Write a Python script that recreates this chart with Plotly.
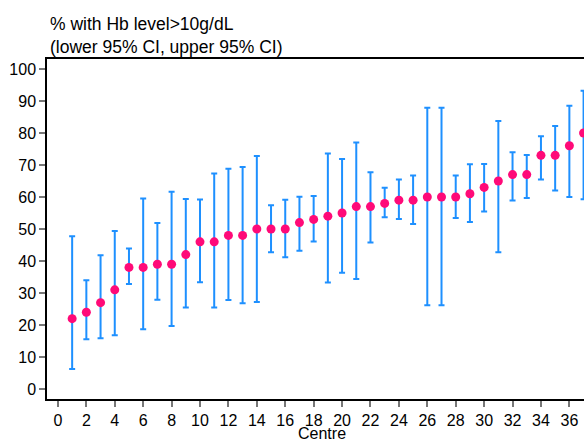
import plotly.graph_objects as go

centre = list(range(1, 38))
pct = [22, 24, 27, 31, 38, 38, 39, 39, 42, 46, 46, 48, 48, 50, 50, 50, 52, 53, 54, 55,
       57, 57, 58, 59, 59, 60, 60, 60, 61, 63, 65, 67, 67, 73, 73, 76, 80]
lower = [6.3, 15.6, 15.9, 16.8, 32.8, 18.7, 27.9, 19.7, 25.5, 33.4, 25.5, 27.8, 26.8, 27.2,
         42.7, 41.2, 43.2, 46.1, 33.3, 36.3, 34.4, 45.8, 53.7, 53.1, 51.6, 26.2, 26.2,
         53.4, 52.2, 55.5, 42.7, 58.9, 59.7, 65.5, 62.0, 60.0, 59.3]
upper = [47.7, 34.0, 41.8, 49.4, 43.9, 59.5, 51.9, 61.6, 59.4, 59.2, 67.3, 68.8, 69.4, 72.8,
         57.4, 59.1, 60.1, 60.3, 73.6, 71.9, 77.0, 67.7, 62.9, 65.5, 66.7, 87.9, 87.9,
         66.7, 70.2, 70.3, 83.7, 74.0, 73.1, 79.0, 82.2, 88.5, 93.2]
x_ticks = list(range(0, 37, 2))
y_ticks = list(range(0, 101, 10))

err_plus = [u - p for u, p in zip(upper, pct)]
err_minus = [p - l for p, l in zip(pct, lower)]

fig = go.Figure()
fig.add_trace(go.Scatter(
    x=centre, y=pct, mode="markers",
    marker=dict(color="#ff0a78", size=9, line=dict(width=0)),
    error_y=dict(type="data", symmetric=False, array=err_plus, arrayminus=err_minus,
                 color="#1e90ff", thickness=2, width=3),
    cliponaxis=False, showlegend=False,
))

font_family = "Liberation Sans, Arial, sans-serif"
fig.update_layout(
    width=584, height=440,
    margin=dict(l=47, r=0, t=59, b=41),
    paper_bgcolor="white", plot_bgcolor="white",
    font=dict(family=font_family, size=16, color="black"),
    xaxis=dict(
        range=[-0.77, 37.03], tickmode="array", tickvals=x_ticks,
        showgrid=False, zeroline=False, showline=True, linecolor="black", linewidth=1.5,
        mirror=True, ticks="outside", ticklen=6, tickwidth=2, tickcolor="#777777",
        tickfont=dict(size=16), automargin=False,
    ),
    yaxis=dict(
        range=[-3.1, 103.1], tickmode="array", tickvals=y_ticks,
        showgrid=False, zeroline=False, showline=True, linecolor="black", linewidth=1.5,
        ticks="outside", ticklen=6, tickwidth=2, tickcolor="#777777",
        tickfont=dict(size=16), automargin=False,
    ),
    annotations=[
        dict(text="% with Hb level>10g/dL<br>(lower 95% CI, upper 95% CI)",
             xref="paper", yref="paper", x=0.002, y=1.0, yshift=0,
             xanchor="left", yanchor="bottom", align="left", showarrow=False,
             font=dict(size=17.5, family=font_family)),
        dict(text="Centre", xref="paper", yref="paper", x=0.512, y=0, yshift=-34,
             xanchor="center", yanchor="middle", showarrow=False,
             font=dict(size=16, family=font_family)),
    ],
)

fig.write_html("out.html", config={"displayModeBar": False},
               post_script="document.body.style.margin='0';document.body.style.overflow='hidden';")
